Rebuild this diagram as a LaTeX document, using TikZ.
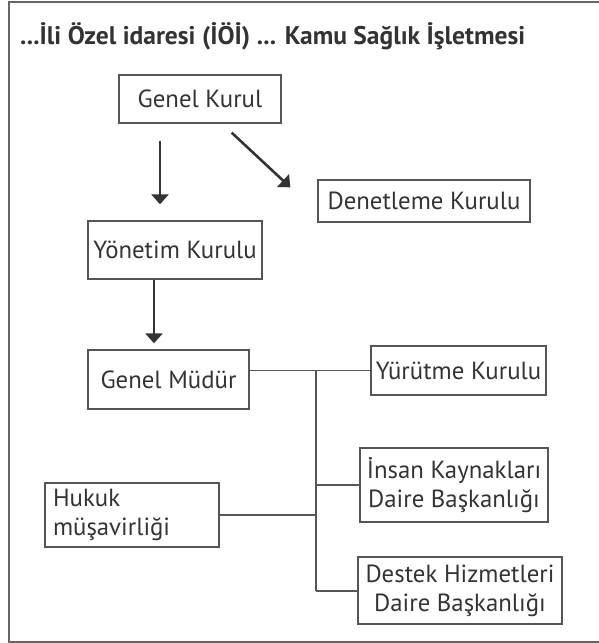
\documentclass[tikz,border=0pt]{standalone}
\usepackage{fontspec}
\setmainfont{PT Sans}
\usetikzlibrary{arrows.meta,calc}
\definecolor{ink}{HTML}{333333}
\definecolor{boxline}{HTML}{555555}
\begin{document}
\begin{tikzpicture}[x=1pt,y=-1pt,
  box/.style={draw=boxline,line width=1.3pt,inner sep=0pt,text=ink,
    font=\fontsize{24.8}{29}\selectfont,align=center},
  arr/.style={draw=ink,line width=2.6pt,-{Triangle[width=17pt,length=10pt]}},
  conn/.style={draw=boxline,line width=1.3pt},
  frame/.style={draw=boxline!90,line width=1.6pt}]
\useasboundingbox (0,0) rectangle (599,643);
% frame (open on the right)
\coordinate (ftr) at (599,2);
\coordinate (ftl) at (9,2);
\coordinate (fbl) at (9,642);
\coordinate (fbr) at (599,642);
\draw[frame] (ftr) -- (ftl) -- (fbl) -- (fbr);
% title
\node[anchor=base west,inner sep=0pt,text=ink,font=\bfseries\fontsize{25.5}{30}\selectfont] (title) at (20,44)
  {...İli Özel idaresi (İÖİ) ... Kamu Sağlık İşletmesi};
% boxes
\node[box,minimum width=162pt,minimum height=48pt] (gk) at (200,99) {Genel Kurul};
\node[box,minimum width=212pt,minimum height=42pt] (dk) at (424,201) {Denetleme Kurulu};
\node[box,minimum width=174pt,minimum height=58pt] (yk) at (175,250) {Yönetim Kurulu};
\node[box,minimum width=161pt,minimum height=59pt] (gm) at (168.5,379.5) {Genel Müdür};
\node[box,minimum width=175pt,minimum height=49pt] (yur) at (458.5,370.5) {Yürütme Kurulu};
\node[box,minimum width=188pt,minimum height=74pt] (ik) at (454,485) {İnsan Kaynakları\\Daire Başkanlığı};
\node[box,minimum width=174pt,minimum height=64pt,text width=158pt,align=left] (hm) at (132,515) {Hukuk\\müşavirliği};
\node[box,minimum width=204pt,minimum height=67pt] (dh) at (460,590.5) {Destek Hizmetleri\\Daire Başkanlığı};
% arrows
\draw[arr] ($(gk.south)+(-40,17)$) -- ($(yk.north)+(-15,-16)$);
\draw[arr] ($(gk.south east)+(-50,9)$) -- ($(dk.north west)+(-27,8)$);
\draw[arr] ($(yk.south)+(-21,0)$) -- ($(gm.north)+(-14.5,-6)$);
% connectors
\coordinate (trunk) at (316,591);
\draw[conn] (gm.east |- yur.west) -- (yur.west);
\draw[conn] (trunk |- yur.west) -- (trunk);
\draw[conn] (trunk |- ik.west) -- (ik.west);
\draw[conn] (hm.east) -- (trunk |- hm.east);
\draw[conn] (trunk) -- (dh.west |- trunk);
\end{tikzpicture}
\end{document}
